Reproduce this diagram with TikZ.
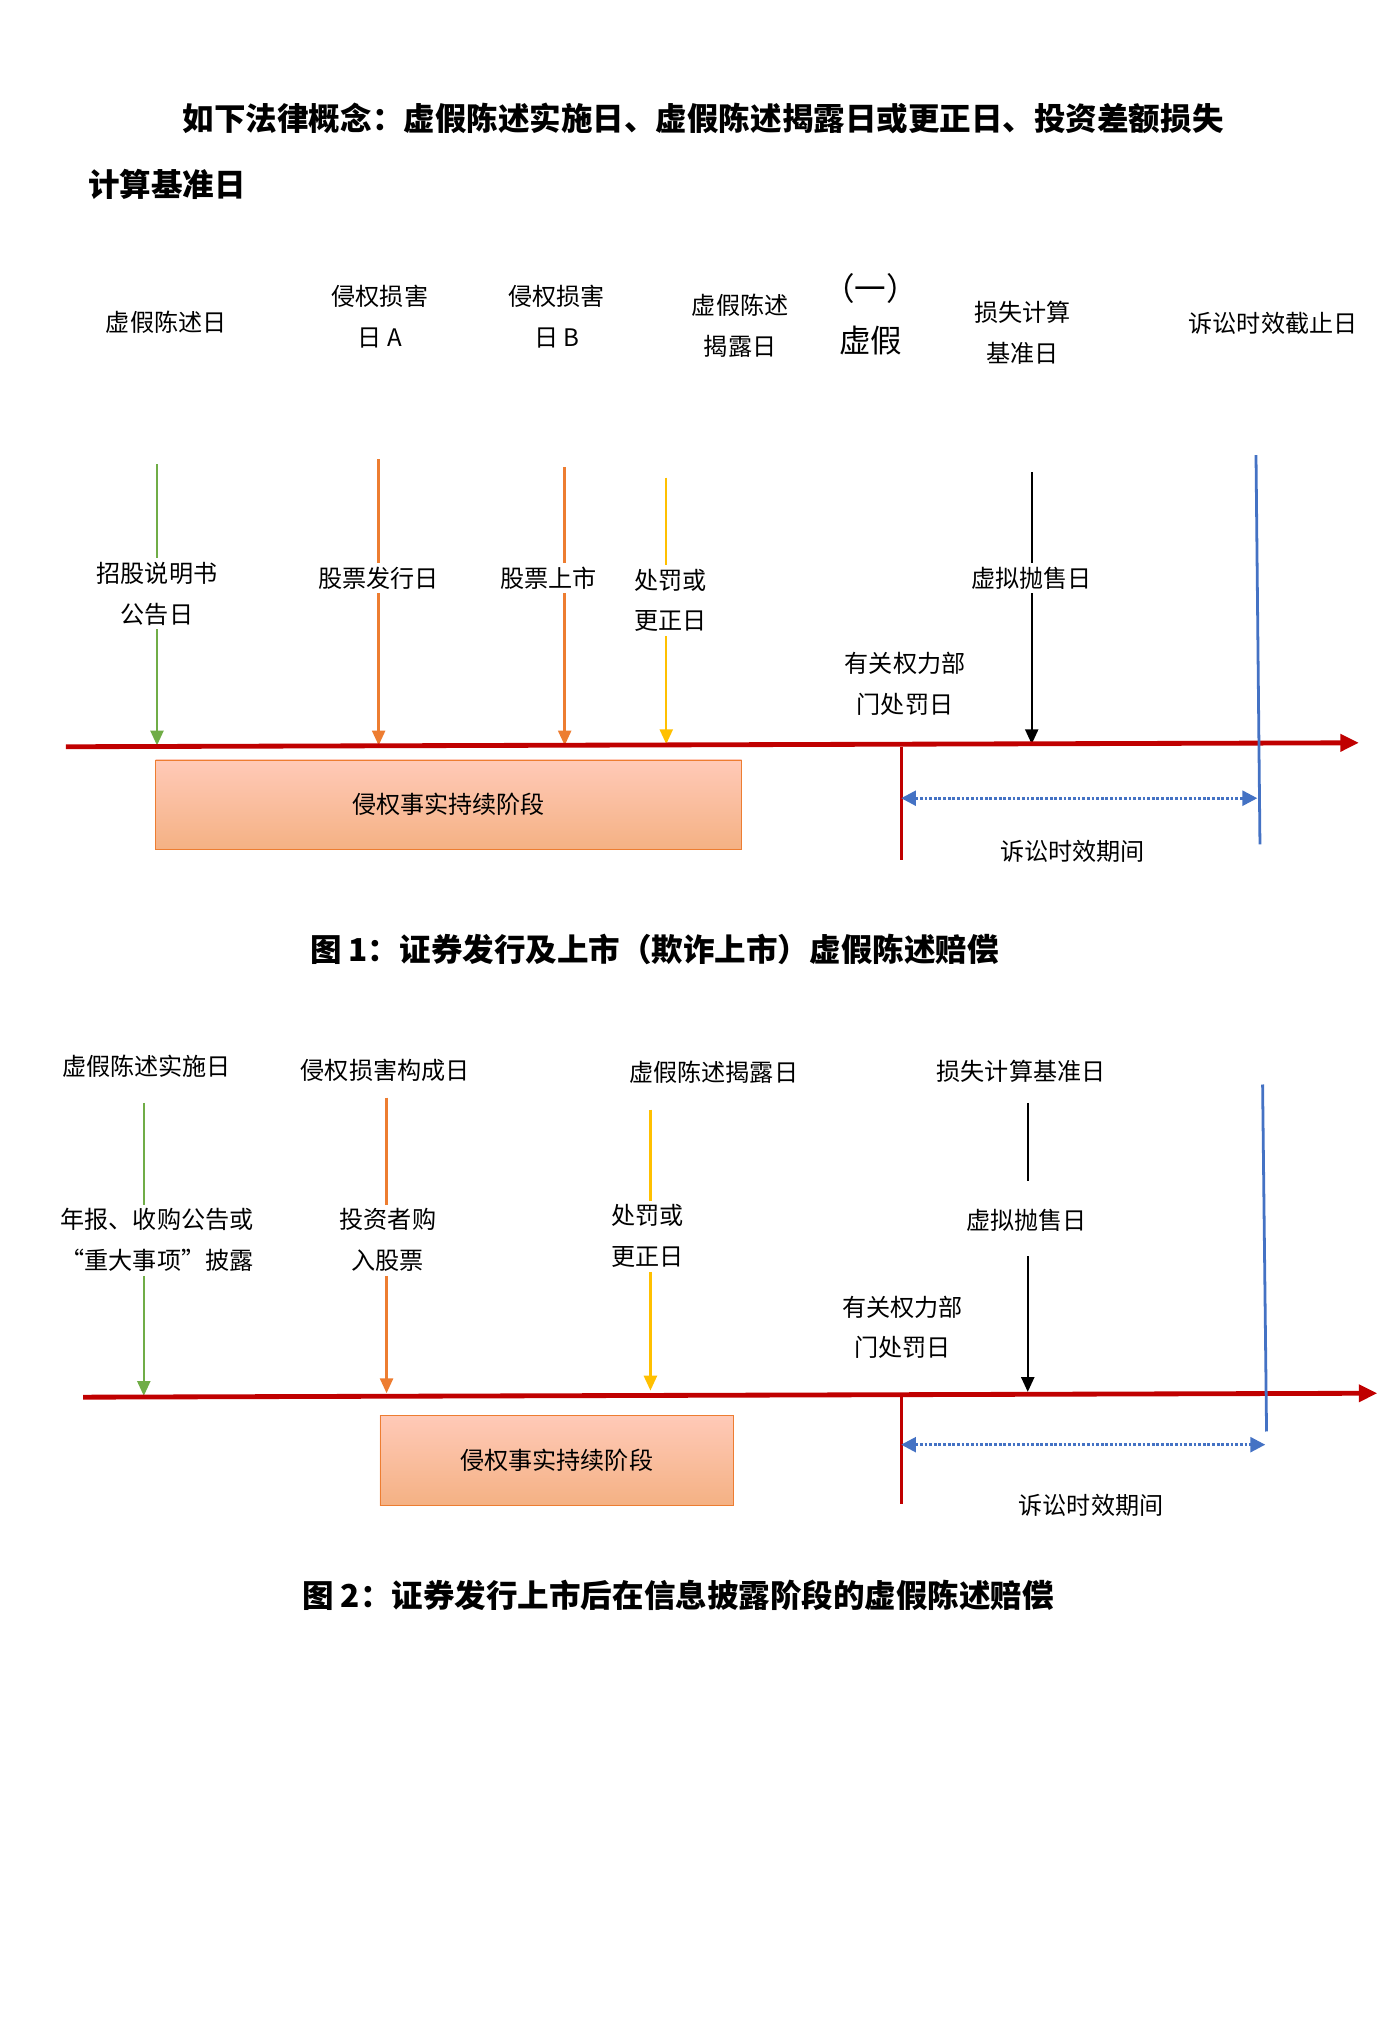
\documentclass[tikz,border=0pt]{standalone}
\usepackage{fontspec}
\setmainfont{Noto Sans CJK SC}
\usepackage{tikz}
\usetikzlibrary{arrows.meta}
\definecolor{axisred}{RGB}{192,0,0}
\definecolor{tgreen}{RGB}{112,173,71}
\definecolor{torange}{RGB}{237,125,49}
\definecolor{tyellow}{RGB}{255,192,0}
\definecolor{tblue}{RGB}{68,114,196}
\tikzset{
	lbl/.style={align=center, font=\fontsize{13}{22}\selectfont, inner sep=2pt},
	ttl/.style={font=\fontsize{17}{26}\selectfont\bfseries},
	tick/.style={line width=1.3pt},
	tickarrow/.style={line width=1.3pt, -{Triangle[length=8pt,width=7pt]}},
	axis/.style={axisred, line width=2.6pt, -{Triangle[length=10pt,width=9pt]}},
	period/.style={tblue, densely dotted, line width=1.5pt, {Triangle[length=8pt,width=8pt]}-{Triangle[length=8pt,width=8pt]}},
	phase/.style={draw=torange, top color=orange!20!pink!70, bottom color=torange!60, minimum height=1.7cm}
}
\begin{document}
\begin{tikzpicture}[x=0.025cm, y=-0.025cm]
	\useasboundingbox (0,0) rectangle (1050,1547);
	% title
	\node[ttl] (t1) at (533,90) {如下法律概念：虚假陈述实施日、虚假陈述揭露日或更正日、投资差额损失};
	\node[ttl, anchor=west] (t2) at (62,140) {计算基准日};
	% figure 1
	\node[lbl] (a1) at (126,244) {虚假陈述日};
	\node[lbl] (a2) at (288,240) {侵权损害\\日 A};
	\node[lbl] (a3) at (422,240) {侵权损害\\日 B};
	\node[lbl] (a4) at (561,247) {虚假陈述\\揭露日};
	\node[lbl, font=\fontsize{17}{28}\selectfont] (a5) at (660,238) {（一）\\虚假};
	\node[lbl] (a6) at (775,252) {损失计算\\基准日};
	\node[lbl] (a7) at (965,245) {诉讼时效截止日};
	\node[lbl] (b1) at (119,450) {招股说明书\\公告日};
	\node[lbl] (b2) at (287,438) {股票发行日};
	\node[lbl] (b3) at (416,438) {股票上市};
	\node[lbl] (b4) at (508,455) {处罚或\\更正日};
	\node[lbl] (b5) at (782,438) {虚拟抛售日};
	\node[lbl] (b6) at (686,518) {有关权力部\\门处罚日};
	\coordinate (g1) at (119,352); \coordinate (G1) at (119,565);
	\coordinate (g2) at (287,348); \coordinate (G2) at (287,565);
	\coordinate (g3) at (428,354); \coordinate (G3) at (428,565);
	\coordinate (g4) at (505,362); \coordinate (G4) at (505,564);
	\coordinate (g5) at (782,358); \coordinate (G5) at (782,564);
	\draw[tick, tgreen] (g1) -- (g1 |- b1.north);
	\draw[tickarrow, tgreen] (g1 |- b1.south) -- (G1);
	\draw[tick, torange] (g2) -- (g2 |- b2.north);
	\draw[tickarrow, torange] (g2 |- b2.south) -- (G2);
	\draw[tick, torange] (g3) -- (g3 |- b3.north);
	\draw[tickarrow, torange] (g3 |- b3.south) -- (G3);
	\draw[tick, tyellow] (g4) -- (g4 |- b4.north);
	\draw[tickarrow, tyellow] (g4 |- b4.south) -- (G4);
	\draw[tick, black] (g5) -- (g5 |- b5.north);
	\draw[tickarrow, black] (g5 |- b5.south) -- (G5);
	\coordinate (x1) at (50,566); \coordinate (x2) at (1030,563);
	\draw[axis] (x1) -- (x2);
	\coordinate (u1) at (952,345); \coordinate (U1) at (955,640);
	\draw[tblue, line width=1.5pt] (u1) -- (U1);
	\coordinate (r1) at (683,566); \coordinate (R1) at (683,652);
	\draw[axisred, line width=1.5pt] (r1) -- (R1);
	\coordinate (p1) at (683,605); \coordinate (P1) at (953,605);
	\draw[period] (p1) -- (P1);
	\node[lbl] (c1) at (813,645) {诉讼时效期间};
	\node[phase, lbl, minimum width=11.1cm] (f1) at (340,610) {侵权事实持续阶段};
	\node[ttl] (cap1) at (496,720) {图 1：证券发行及上市（欺诈上市）虚假陈述赔偿};
	% figure 2
	\node[lbl] (d1) at (111,808) {虚假陈述实施日};
	\node[lbl] (d2) at (292,811) {侵权损害构成日};
	\node[lbl] (d3) at (541,813) {虚假陈述揭露日};
	\node[lbl] (d4) at (774,812) {损失计算基准日};
	\node[lbl] (e1) at (119,940) {年报、收购公告或\\“重大事项”披露};
	\node[lbl] (e2) at (294,940) {投资者购\\入股票};
	\node[lbl] (e3) at (491,937) {处罚或\\更正日};
	\node[lbl] (e4) at (778,925) {虚拟抛售日};
	\node[lbl] (e5) at (684,1006) {有关权力部\\门处罚日};
	\coordinate (h1) at (109,836); \coordinate (H1) at (109,1058);
	\coordinate (h2) at (293,832); \coordinate (H2) at (293,1056);
	\coordinate (h3) at (493,841); \coordinate (H3) at (493,1054);
	\coordinate (h4) at (779,836); \coordinate (H4) at (779,1055);
	\coordinate (k4) at (779,895); \coordinate (K4) at (779,952);
	\draw[tick, tgreen] (h1) -- (h1 |- e1.north);
	\draw[tickarrow, tgreen] (h1 |- e1.south) -- (H1);
	\draw[tick, torange] (h2) -- (h2 |- e2.north);
	\draw[tickarrow, torange] (h2 |- e2.south) -- (H2);
	\draw[tick, tyellow] (h3) -- (h3 |- e3.north);
	\draw[tickarrow, tyellow] (h3 |- e3.south) -- (H3);
	\draw[tick, black] (h4) -- (k4);
	\draw[tickarrow, black] (K4) -- (H4);
	\coordinate (y1) at (63,1059); \coordinate (y2) at (1044,1056);
	\draw[axis] (y1) -- (y2);
	\coordinate (v1) at (957,822); \coordinate (V1) at (960,1085);
	\draw[tblue, line width=1.5pt] (v1) -- (V1);
	\coordinate (s1) at (683,1059); \coordinate (S1) at (683,1140);
	\draw[axisred, line width=1.5pt] (s1) -- (S1);
	\coordinate (q1) at (683,1095); \coordinate (Q1) at (959,1095);
	\draw[period] (q1) -- (Q1);
	\node[lbl] (c2) at (827,1141) {诉讼时效期间};
	\node[phase, lbl, minimum width=6.7cm] (f2) at (422,1107) {侵权事实持续阶段};
	\node[ttl] (cap2) at (514,1209) {图 2：证券发行上市后在信息披露阶段的虚假陈述赔偿};
\end{tikzpicture}
\end{document}
